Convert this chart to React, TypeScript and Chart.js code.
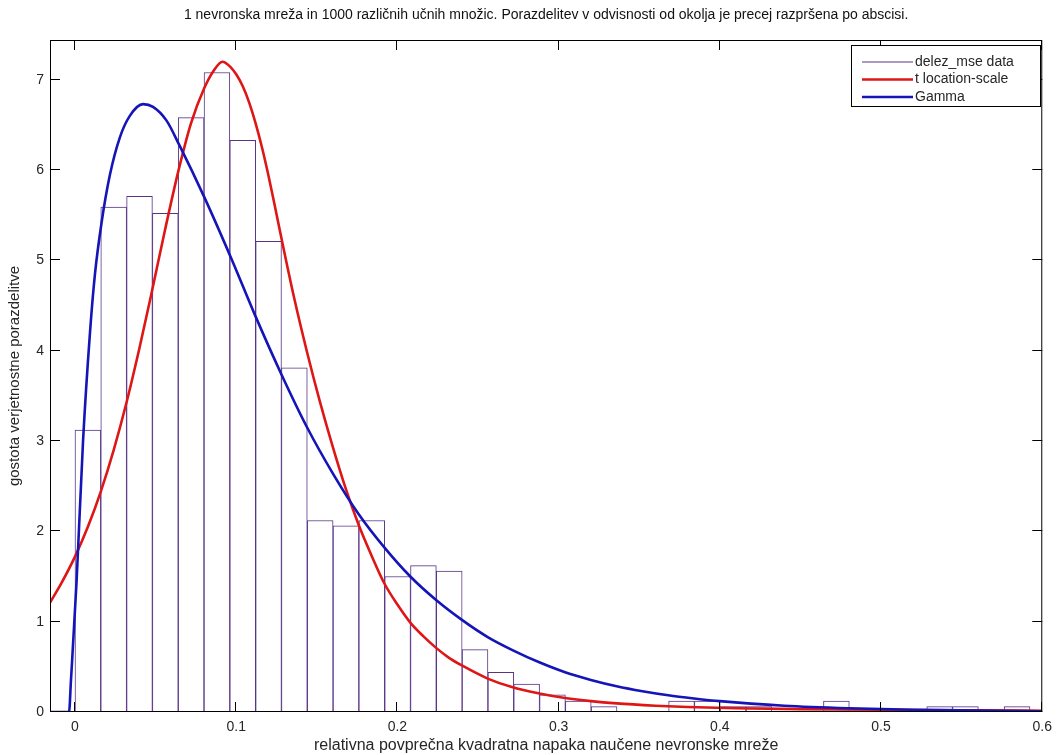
import React, { useEffect, useRef } from "react";
import { Chart, registerables } from "chart.js";

Chart.register(...registerables);

// ---------- text ----------
const TITLE =
  "1 nevronska mreža in 1000 različnih učnih množic. Porazdelitev v odvisnosti od okolja je precej razpršena po abscisi.";
const X_LABEL = "relativna povprečna kvadratna napaka naučene nevronske mreže";
const Y_LABEL = "gostota verjetnostne porazdelitve";
const LEGEND_LABELS = ["delez_mse data", "t location-scale", "Gamma"];

// ---------- axes ----------
const X_MIN = -0.0155;
const X_MAX = 0.6;
const Y_MIN = 0;
const Y_MAX = 7.44;
const X_TICKS = [0, 0.1, 0.2, 0.3, 0.4, 0.5, 0.6];
const Y_TICKS = [0, 1, 2, 3, 4, 5, 6, 7];

// ---------- histogram (density per bin) ----------
const BIN_START = 0;
const BIN_WIDTH = 0.01601;
const HIST_DENSITY = [
  3.12, 5.59, 5.71, 5.52, 6.58, 7.08, 6.33, 5.21, 3.81, 2.12,
  2.06, 2.12, 1.5, 1.62, 1.56, 0.69, 0.44, 0.31, 0.19, 0.12,
  0.06, 0, 0, 0.12, 0.12, 0.06, 0.06, 0, 0, 0.12,
  0, 0, 0, 0.06, 0.06, 0, 0.06,
];

// ---------- t location-scale fit ----------
const T_X = [
  -0.0155, -0.008, 0, 0.008, 0.016, 0.024, 0.032, 0.04, 0.048, 0.056,
  0.064, 0.072, 0.08, 0.086, 0.0915, 0.0965, 0.1, 0.104, 0.108, 0.112,
  0.116, 0.12, 0.124, 0.128, 0.136, 0.144, 0.152, 0.16, 0.168, 0.176,
  0.184, 0.192, 0.2, 0.208, 0.216, 0.224, 0.232, 0.24, 0.256, 0.272,
  0.288, 0.304, 0.32, 0.336, 0.36, 0.38, 0.41, 0.45, 0.5, 0.55,
  0.6,
];
const T_Y = [
  1.21, 1.44, 1.72, 2.05, 2.44, 2.9, 3.43, 4.03, 4.68, 5.35,
  5.98, 6.52, 6.9, 7.1, 7.2, 7.14, 7.06, 6.93, 6.75, 6.52,
  6.25, 5.94, 5.6, 5.25, 4.58, 3.98, 3.43, 2.93, 2.47, 2.07,
  1.73, 1.42, 1.19, 0.99, 0.84, 0.71, 0.6, 0.515, 0.37, 0.27,
  0.205, 0.155, 0.12, 0.095, 0.07, 0.055, 0.042, 0.032, 0.024, 0.018,
  0.014,
];

// ---------- Gamma fit ----------
const GAMMA_X = [
  -0.0155, -0.0037, -0.0025, 0.001, 0.005, 0.0093, 0.0124, 0.0165, 0.0217, 0.0278,
  0.034, 0.0422, 0.0484, 0.0567, 0.0649, 0.0802, 0.0965, 0.112, 0.128, 0.144,
  0.16, 0.176, 0.192, 0.208, 0.224, 0.24, 0.256, 0.272, 0.288, 0.304,
  0.32, 0.336, 0.352, 0.368, 0.384, 0.4, 0.44, 0.48, 0.52, 0.56,
  0.6,
];
const GAMMA_Y = [
  0, 0, 0.35, 1.45, 3.0, 4.2, 4.85, 5.42, 5.95, 6.36,
  6.6, 6.73, 6.7, 6.55, 6.27, 5.7, 5.04, 4.38, 3.74, 3.15,
  2.64, 2.19, 1.82, 1.5, 1.24, 1.02, 0.83, 0.68, 0.55, 0.44,
  0.355, 0.285, 0.23, 0.185, 0.15, 0.12, 0.07, 0.042, 0.025, 0.015,
  0.009,
];

// ---------- styles ----------
const FONT = "'Liberation Sans', Arial, Helvetica, sans-serif";
const PURPLE = "rgb(88, 52, 134)";
const RED = "rgb(222, 22, 22)";
const BLUE = "rgb(20, 20, 185)";
const TEXT = "#262626";

const framePlugin = {
  id: "matlabFrame",
  afterDraw(chart: any) {
    const { ctx, chartArea: a, scales } = chart;
    const xs = scales.x;
    const ys = scales.y;
    ctx.save();
    ctx.strokeStyle = "#000";
    ctx.lineWidth = 1;
    ctx.strokeRect(a.left + 0.5, a.top + 0.5, a.right - a.left - 1, a.bottom - a.top - 1);
    const TL = 10;
    ctx.beginPath();
    X_TICKS.forEach((v) => {
      const px = Math.round(xs.getPixelForValue(v)) - 0.5;
      ctx.moveTo(px, a.bottom);
      ctx.lineTo(px, a.bottom - TL);
      ctx.moveTo(px, a.top);
      ctx.lineTo(px, a.top + TL);
    });
    Y_TICKS.forEach((v) => {
      const py = Math.round(ys.getPixelForValue(v)) - 0.5;
      ctx.moveTo(a.left, py);
      ctx.lineTo(a.left + TL, py);
      ctx.moveTo(a.right, py);
      ctx.lineTo(a.right - TL, py);
    });
    ctx.stroke();

    // title
    ctx.fillStyle = "#111";
    ctx.font = `14px ${FONT}`;
    ctx.textAlign = "center";
    ctx.textBaseline = "middle";
    ctx.fillText(TITLE, (a.left + a.right) / 2, 15);

    // legend
    const lx = 851;
    const ly = 45;
    const lw = 189;
    const lh = 61;
    ctx.fillStyle = "#fff";
    ctx.fillRect(lx, ly, lw, lh);
    ctx.strokeStyle = "#000";
    ctx.lineWidth = 1;
    ctx.strokeRect(lx + 0.5, ly + 0.5, lw, lh);
    const colors = [PURPLE, RED, BLUE];
    const widths = [1, 2.6, 2.6];
    ctx.textAlign = "left";
    ctx.font = `14px ${FONT}`;
    LEGEND_LABELS.forEach((lab, i) => {
      const y = ly + 17 + i * 17.5;
      ctx.strokeStyle = colors[i];
      ctx.lineWidth = widths[i];
      ctx.beginPath();
      ctx.moveTo(lx + 11, y);
      ctx.lineTo(lx + 62, y);
      ctx.stroke();
      ctx.fillStyle = TEXT;
      ctx.fillText(lab, lx + 64, y);
    });
    ctx.restore();
  },
};

export default function App() {
  const ref = useRef<HTMLCanvasElement | null>(null);

  useEffect(() => {
    document.body.style.margin = "0";
    const canvas = ref.current;
    if (!canvas) return;
    const histData = HIST_DENSITY.map((y, i) => ({ x: BIN_START + (i + 0.5) * BIN_WIDTH, y }));
    const tData = T_X.map((x, i) => ({ x, y: T_Y[i] }));
    const gData = GAMMA_X.map((x, i) => ({ x, y: GAMMA_Y[i] }));

    const chart = new Chart(canvas, {
      type: "bar",
      data: {
        datasets: [
          {
            type: "bar",
            label: LEGEND_LABELS[0],
            data: histData,
            backgroundColor: "#ffffff",
            borderColor: PURPLE,
            borderWidth: 1,
            borderSkipped: false,
            barPercentage: 1,
            categoryPercentage: 1,
            order: 3,
          } as any,
          {
            type: "line",
            label: LEGEND_LABELS[1],
            data: tData,
            borderColor: RED,
            borderWidth: 2.6,
            pointRadius: 0,
            cubicInterpolationMode: "monotone",
            fill: false,
            order: 2,
          } as any,
          {
            type: "line",
            label: LEGEND_LABELS[2],
            data: gData,
            borderColor: BLUE,
            borderWidth: 2.6,
            pointRadius: 0,
            cubicInterpolationMode: "monotone",
            fill: false,
            order: 1,
          } as any,
        ],
      },
      options: {
        animation: false,
        responsive: false,
        maintainAspectRatio: false,
        layout: { padding: { top: 40, right: 14, left: 0, bottom: 0 } },
        plugins: {
          legend: { display: false },
          title: { display: false },
          tooltip: { enabled: false },
        },
        scales: {
          x: {
            type: "linear",
            min: X_MIN,
            max: X_MAX,
            offset: false,
            grid: { display: false, drawTicks: false },
            border: { display: false },
            afterBuildTicks: (s: any) => {
              s.ticks = X_TICKS.map((v) => ({ value: v }));
            },
            afterFit: (s: any) => {
              s.height = 43;
            },
            ticks: {
              padding: 7,
              color: TEXT,
              font: { family: FONT, size: 14 },
              maxRotation: 0,
              autoSkip: false,
              callback: (v: any) => String(v),
            },
            title: {
              display: true,
              text: X_LABEL,
              color: TEXT,
              font: { family: FONT, size: 16 },
              padding: { top: 0, bottom: 0 },
            },
          },
          y: {
            type: "linear",
            min: Y_MIN,
            max: Y_MAX,
            grid: { display: false, drawTicks: false },
            border: { display: false },
            afterBuildTicks: (s: any) => {
              s.ticks = Y_TICKS.map((v) => ({ value: v }));
            },
            afterFit: (s: any) => {
              s.width = 50;
            },
            ticks: {
              padding: 6,
              color: TEXT,
              font: { family: FONT, size: 14 },
              callback: (v: any) => String(v),
            },
            title: {
              display: true,
              text: Y_LABEL,
              color: TEXT,
              font: { family: FONT, size: 15 },
              padding: { top: 6, bottom: 0 },
            },
          },
        },
      } as any,
      plugins: [framePlugin],
    });
    return () => chart.destroy();
  }, []);

  return (
    <div style={{ position: "fixed", left: 0, top: 0, width: 1059, height: 755, background: "#fff" }}>
      <canvas ref={ref} width={1059} height={755} style={{ display: "block", width: 1059, height: 755 }} />
    </div>
  );
}
